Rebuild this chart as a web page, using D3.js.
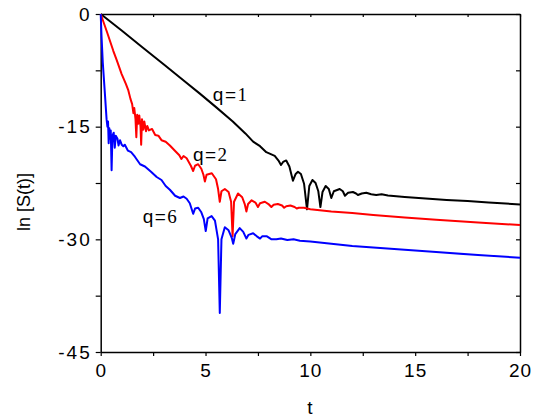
<!DOCTYPE html>
<html>
<head>
<meta charset="utf-8">
<script src="https://cdn.jsdelivr.net/npm/d3@7"></script>
<style>
  body { margin: 0; background: #fff; }
  svg { display: block; }
  .tick text { font-family: Arial, "Liberation Sans", sans-serif; }
</style>
</head>
<body>
<div id="chart"></div>
<script>
// values: [t, ln S(t)]
const q1 = [[0,0],[1,-2.2],[2,-4.45],[3,-6.7],[4,-8.95],[4.73,-10.6],[5.5,-12.4],[6.3,-14.3],[6.9,-15.9],
  [7.27,-17.0],[7.6,-17.6],[7.9,-18.4],[8.06,-18.6],[8.3,-18.9],[8.5,-19.6],[8.6,-20.1],[8.7,-19.7],
  [8.85,-19.5],[9.0,-20.3],[9.17,-22.2],[9.3,-21.3],[9.41,-21.0],[9.55,-21.3],[9.7,-22.6],[9.84,-26.0],
  [9.95,-22.9],[10.1,-22.1],[10.25,-22.5],[10.38,-23.6],[10.48,-25.7],[10.58,-23.7],[10.73,-22.9],
  [10.88,-23.3],[11.0,-24.5],[11.12,-23.6],[11.4,-23.3],[11.55,-23.6],[11.65,-24.2],[11.8,-23.8],
  [12.03,-23.7],[12.18,-23.9],[12.27,-24.1],[12.45,-23.9],[12.67,-23.8],[12.9,-24.0],[13.14,-24.1],
  [13.4,-24.0],[13.7,-24.15],[14.5,-24.35],[15.5,-24.55],[16.5,-24.75],[17.5,-24.9],[18.5,-25.1],[20,-25.35]];

const q2 = [[0,0],[0.3,-2.4],[0.6,-4.9],[0.76,-6.1],[1.0,-8.0],[1.2,-9.3],[1.31,-10.1],[1.42,-11.3],
  [1.5,-12.0],[1.56,-13.2],[1.6,-12.5],[1.66,-14.0],[1.7,-16.4],[1.74,-13.4],[1.8,-14.6],[1.84,-13.5],
  [1.9,-15.0],[1.93,-17.4],[1.97,-14.0],[2.03,-15.4],[2.08,-14.3],[2.16,-15.6],[2.22,-14.9],[2.3,-15.5],
  [2.45,-15.3],[2.6,-16.1],[2.75,-16.2],[2.9,-16.8],[3.1,-17.0],[3.3,-17.5],[3.54,-18.2],[3.75,-18.8],
  [3.85,-19.3],[3.95,-18.9],[4.1,-19.2],[4.3,-20.2],[4.41,-20.9],[4.5,-20.2],[4.65,-20.0],[4.8,-20.6],
  [4.9,-21.4],[4.97,-22.3],[5.05,-21.4],[5.3,-21.2],[5.5,-22.0],[5.6,-23.3],[5.68,-25.0],[5.76,-23.6],
  [5.92,-23.3],[6.1,-23.7],[6.22,-25.0],[6.29,-29.6],[6.36,-25.0],[6.55,-23.9],[6.75,-24.4],[6.87,-25.3],
  [6.95,-26.3],[7.03,-25.3],[7.2,-24.8],[7.38,-25.1],[7.5,-25.7],[7.6,-25.2],[7.83,-25.0],[8.0,-25.3],
  [8.14,-25.7],[8.25,-25.4],[8.45,-25.3],[8.65,-25.5],[8.75,-25.8],[8.85,-25.6],[9.05,-25.5],[9.25,-25.7],
  [9.35,-25.9],[9.45,-25.8],[9.7,-25.8],[10,-26.0],[11,-26.3],[12,-26.5],[13,-26.75],[14.5,-27.1],
  [16,-27.4],[18,-27.75],[20,-28.1]];

const q6 = [[0,0],[0.04,-3],[0.1,-6.5],[0.2,-10.6],[0.28,-14.0],[0.32,-15.0],[0.35,-14.3],[0.38,-17.2],
  [0.41,-15.2],[0.45,-16.6],[0.48,-15.5],[0.52,-20.8],[0.56,-16.2],[0.62,-15.8],[0.67,-17.8],[0.72,-16.2],
  [0.8,-16.6],[0.85,-17.5],[0.92,-16.8],[1.0,-17.4],[1.08,-17.6],[1.15,-17.4],[1.3,-18.2],[1.45,-18.4],
  [1.63,-19.0],[1.88,-20.0],[2.11,-20.3],[2.4,-21.0],[2.67,-21.7],[2.9,-22.1],[3.1,-22.9],[3.3,-23.4],
  [3.55,-24.2],[3.78,-24.5],[3.95,-24.3],[4.1,-24.6],[4.25,-25.2],[4.41,-26.6],[4.5,-25.9],[4.65,-25.8],
  [4.8,-26.4],[4.92,-27.3],[5.01,-28.9],[5.1,-27.2],[5.29,-26.9],[5.45,-27.5],[5.6,-30],[5.68,-39.8],
  [5.76,-30],[5.92,-28.4],[6.1,-28.8],[6.25,-29.8],[6.32,-30.6],[6.42,-29.3],[6.63,-28.5],[6.8,-29.0],
  [6.95,-29.9],[7.05,-29.4],[7.27,-29.2],[7.45,-29.6],[7.6,-29.9],[7.7,-29.6],[7.93,-29.6],[8.15,-30.0],
  [8.38,-30.0],[8.6,-29.9],[8.9,-30.1],[9.2,-30.0],[9.5,-30.2],[10,-30.3],[11,-30.6],[12,-30.9],
  [13,-31.1],[14.5,-31.4],[16,-31.7],[18,-32.1],[20,-32.45]];

const xTicks = [0, 5, 10, 15, 20];
const yTicks = [0, -15, -30, -45];
// curve labels: number, t and ln S(t) of the label's left baseline
const labels = [["1", 5.35, -11.6], ["2", 4.4, -19.6], ["6", 2.0, -27.8]];

const W = 535, H = 419;
const svg = d3.select("#chart").append("svg").attr("width", W).attr("height", H);

const x = d3.scaleLinear().domain([0, 20]).range([100.7, 520]);
const y = d3.scaleLinear().domain([-45, 0]).range([352, 14]);

const minorX = d3.range(0, 20.01, 2.5);
const minorY = d3.range(-45, 0.01, 7.5);

// bottom axis, ticks outward
const bottom = svg.append("g").attr("transform", `translate(0,${y(-45)})`)
  .call(d3.axisBottom(x).tickValues(minorX).tickSizeInner(4).tickSizeOuter(0)
    .tickFormat(d => xTicks.includes(d) ? d : ""));
bottom.selectAll(".tick text").attr("font-size", 19).attr("dy", "0.95em").attr("letter-spacing", 1);

const left = svg.append("g").attr("transform", `translate(${x(0)},0)`)
  .call(d3.axisLeft(y).tickValues(minorY).tickSizeInner(5).tickSizeOuter(0)
    .tickFormat(d => yTicks.includes(d) ? d : ""));
left.selectAll(".tick text").attr("font-size", 19).attr("x", -9).attr("letter-spacing", 2);

svg.append("g").attr("transform", `translate(0,${y(0)})`)
  .call(d3.axisTop(x).tickValues(minorX).tickSizeInner(-3).tickSizeOuter(0).tickFormat(""));
svg.append("g").attr("transform", `translate(${x(20)},0)`)
  .call(d3.axisRight(y).tickValues(minorY).tickSizeInner(-4).tickSizeOuter(0).tickFormat(""));

svg.selectAll(".domain").attr("stroke", "#000").attr("stroke-width", 1.5);
svg.selectAll(".tick line").attr("stroke", "#000").attr("stroke-width", 1.2);

const line = d3.line().x(d => x(d[0])).y(d => y(d[1]));
[[q1, "#000000"], [q2, "#ff0000"], [q6, "#0000ff"]].forEach(([data, color]) => {
  svg.append("path").datum(data).attr("d", line)
    .attr("fill", "none").attr("stroke", color).attr("stroke-width", 2)
    .attr("stroke-linejoin", "round");
});

labels.forEach(([num, tx, ty]) => {
  const t = svg.append("text").attr("x", x(tx)).attr("y", y(ty))
    .attr("font-size", 19).attr("letter-spacing", 1.5);
  t.append("tspan").attr("font-family", "Arial, 'Liberation Sans', sans-serif").text("q=");
  t.append("tspan").attr("font-family", "'Liberation Serif', 'Times New Roman', serif").text(num);
});

svg.append("text").attr("x", 310).attr("y", 414).attr("text-anchor", "middle")
  .attr("font-family", "Arial, 'Liberation Sans', sans-serif").attr("font-size", 19).text("t");

svg.append("text").attr("transform", "translate(30,202) rotate(-90)").attr("text-anchor", "middle")
  .attr("font-family", "Arial, 'Liberation Sans', sans-serif").attr("font-size", 18).text("ln [S(t)]");
</script>
</body>
</html>
